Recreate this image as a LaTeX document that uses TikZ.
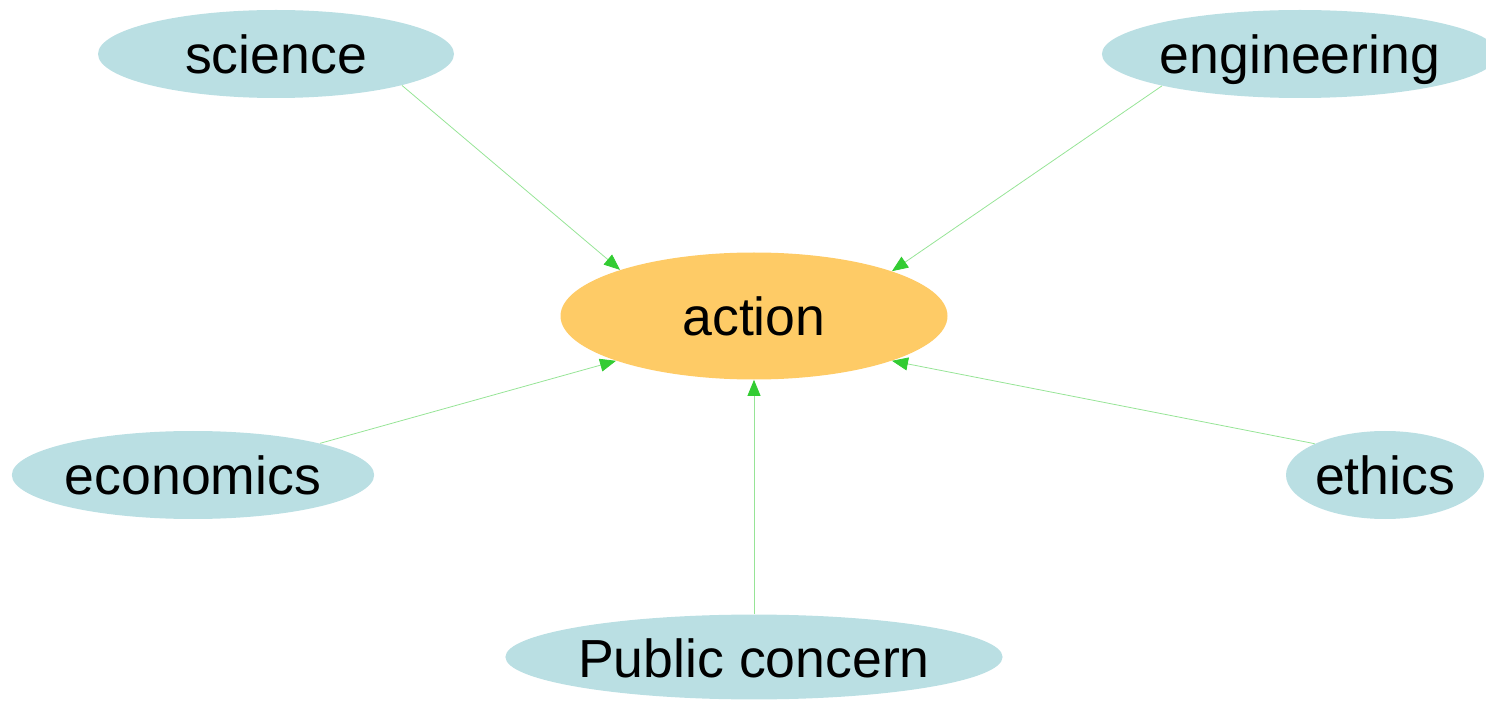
\documentclass[tikz,border=0pt]{standalone}
\usepackage{fontspec}
\setmainfont{Liberation Sans}
\usetikzlibrary{arrows.meta,shapes.geometric}

\definecolor{topicblue}{RGB}{186,223,227}
\definecolor{actionorange}{RGB}{254,203,102}
\definecolor{edgegreen}{RGB}{150,228,150}
\definecolor{tipgreen}{RGB}{51,204,51}

\begin{document}
\begin{tikzpicture}[
	topic/.style={ellipse, fill=topicblue, inner sep=0pt, minimum height=1.76cm, text height=1.0cm, text depth=0.2cm, font=\fontsize{30.5}{35}\selectfont},
	goal/.style={ellipse, fill=actionorange, inner sep=0pt, minimum width=7.74cm, minimum height=2.54cm, text height=1.0cm, text depth=0.2cm, font=\fontsize{30.5}{35}\selectfont},
	feeds/.style={draw=edgegreen, line width=0.45pt, -{Triangle[length=0.32cm,width=0.26cm,color=tipgreen,fill=tipgreen]}}]
	\useasboundingbox (0,0) rectangle (29.72,14.02);

	\node[goal] (action) at (15.08,7.70) {action};
	\node[topic, minimum width=7.12cm] (science) at (5.52,12.94) {science};
	\node[topic, minimum width=7.88cm] (engineering) at (26.00,12.94) {engineering};
	\node[topic, minimum width=7.2cm] (economics) at (3.86,4.52) {economics};
	\node[topic, minimum width=3.92cm] (ethics) at (27.70,4.52) {ethics};
	\node[topic, minimum width=9.88cm, minimum height=1.64cm] (public) at (15.08,0.88) {Public concern};

	\draw[feeds] (science.-14) -- (action.161.8);
	\draw[feeds] (engineering.-167) -- (action.18.4);
	\draw[feeds] (economics.14) -- (action.198.6);
	\draw[feeds] (ethics.156) -- (action.-18.4);
	\draw[feeds] (public.north) -- (action.south);
\end{tikzpicture}
\end{document}
